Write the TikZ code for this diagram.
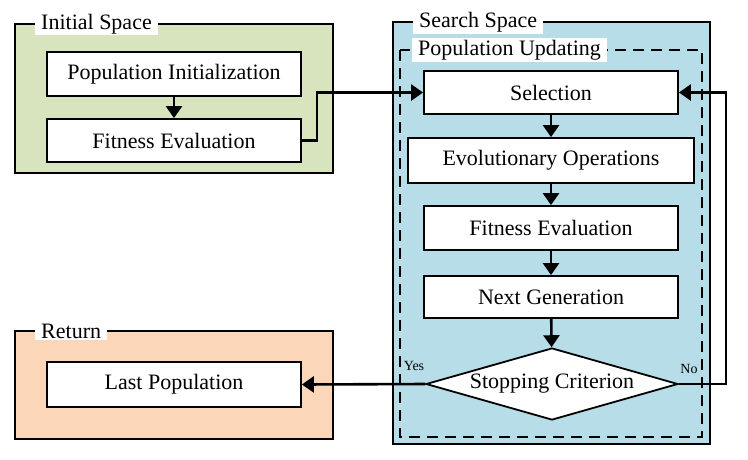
\documentclass[tikz,border=0pt]{standalone}
\usepackage{fontspec}
\setmainfont{Liberation Serif}
\usetikzlibrary{arrows.meta,shapes.geometric}
\definecolor{cgreen}{RGB}{215,228,189}
\definecolor{cblue}{RGB}{183,222,232}
\definecolor{cpeach}{RGB}{251,214,184}
\begin{document}
\begin{tikzpicture}[x=1pt,y=-1pt,
  panel/.style={draw=black,line width=1.8pt},
  proc/.style={draw=black,fill=white,line width=1.8pt,inner sep=0pt,font=\fontsize{22}{24}\selectfont},
  lbl/.style={fill=white,inner xsep=6pt,inner ysep=0pt,anchor=west,font=\fontsize{22}{24}\selectfont},
  conn/.style={line width=2.6pt,-{Triangle[length=12pt,width=16pt]}},
  small/.style={inner sep=0pt,font=\fontsize{14}{16}\selectfont}]
\useasboundingbox (0,0) rectangle (748,459);
% panels
\path[panel,fill=cgreen] (15,24) rectangle (333,173);
\node[lbl,minimum height=22pt] (lInit) at (35,24) {Initial Space};
\path[panel,fill=cblue] (393,22) rectangle (710,444);
\node[lbl,minimum height=24pt] (lSearch) at (413,22) {Search Space};
\path[panel,fill=cpeach] (15,331) rectangle (333,439);
\node[lbl,minimum height=18pt] (lRet) at (35,331) {Return};
\draw[line width=1.8pt,dash pattern=on 11pt off 7pt] (400,50) rectangle (702,437);
\node[lbl,minimum height=24pt] (lPop) at (412,50) {Population Updating};
% process nodes
\node[proc,minimum width=254pt,minimum height=44pt] (init) at (174,74) {Population Initialization};
\node[proc,minimum width=254pt,minimum height=43pt] (fit1) at (174,140.5) {Fitness Evaluation};
\node[proc,minimum width=254pt,minimum height=43pt] (sel) at (551,92.5) {Selection};
\node[proc,minimum width=286pt,minimum height=45pt] (evo) at (551,160.5) {Evolutionary Operations};
\node[proc,minimum width=254pt,minimum height=44pt] (fit2) at (551,228) {Fitness Evaluation};
\node[proc,minimum width=254pt,minimum height=42pt] (next) at (551,297) {Next Generation};
\node[proc,diamond,aspect=3.5,minimum width=252pt,minimum height=72pt] (stop) at (552,384) {Stopping Criterion};
\node[proc,minimum width=254pt,minimum height=45pt] (last) at (174,384.5) {Last Population};
% connectors
\draw[conn] (init) -- (fit1);
\draw[conn] (fit1.east) -- ++(15,0) |- (sel.west);
\draw[conn] (sel) -- (evo);
\draw[conn] (evo) -- (fit2);
\draw[conn] (fit2) -- (next);
\draw[conn] (next) -- (stop);
\draw[conn] (stop.west) -- (last.east);
\draw[conn] (stop.east) -- ++(47,0) |- (sel.east);
\node[small] (yes) at (414,366) {Yes};
\node[small] (no) at (689,369) {No};
\end{tikzpicture}
\end{document}
